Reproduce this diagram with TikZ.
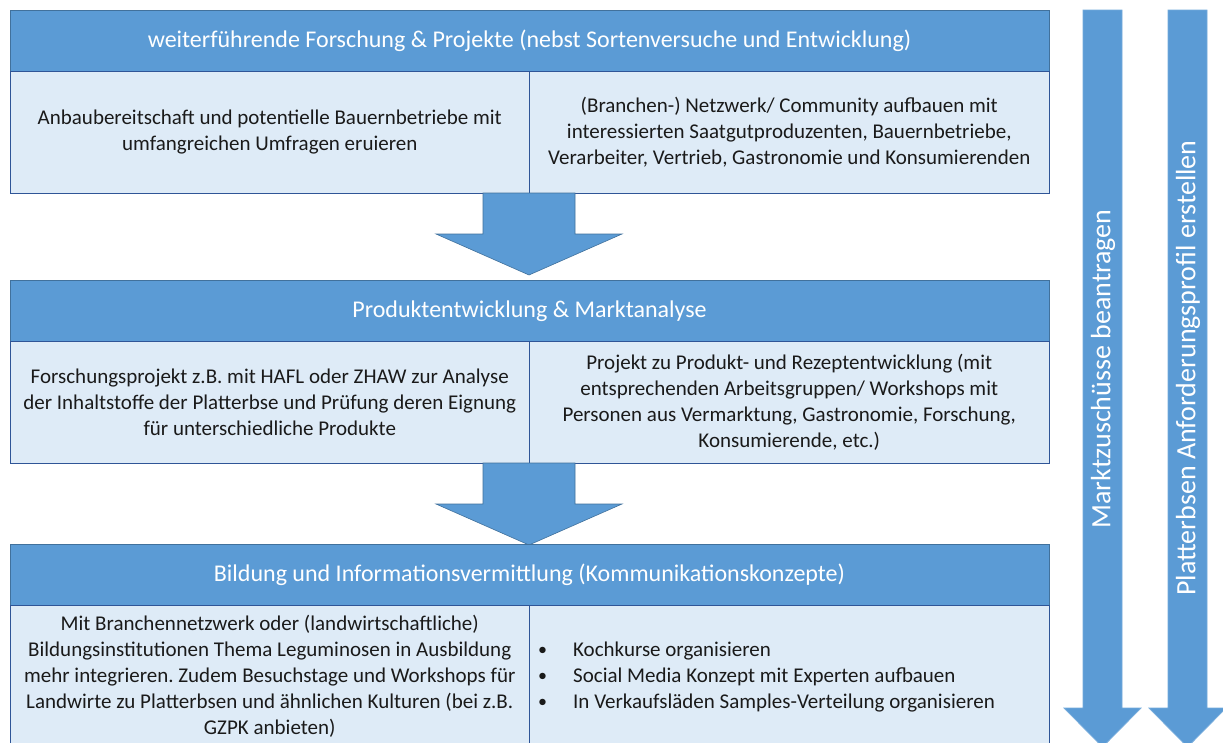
\documentclass[tikz,border=0pt]{standalone}
\usepackage{fontspec}
\setmainfont{Carlito}
\frenchspacing
\newcommand{\mybullet}{\makebox[35pt][l]{\raisebox{1pt}{\fontsize{18}{26}\selectfont •}}}
\begin{document}
\begin{tikzpicture}[x=1pt,y=-1pt]
\definecolor{hdr}{HTML}{5B9BD5}
\definecolor{hdrline}{HTML}{41719C}
\definecolor{cell}{HTML}{DEEBF7}
\definecolor{cellline}{HTML}{2F5597}
\definecolor{txt}{HTML}{1A1A1A}
\tikzset{
  hdrbox/.style={draw=hdrline, line width=0.8pt, fill=hdr, minimum width=1039pt, minimum height=61pt, inner sep=0pt, text=white, font=\fontsize{24}{28}\selectfont},
  cellbox/.style={draw=cellline, line width=1pt, fill=cell, minimum width=519.5pt, inner sep=0pt, align=center, text=txt, font=\fontsize{21}{26}\selectfont},
  celltext/.style={inner sep=0pt, text=txt, font=\fontsize{21}{26}\selectfont},
  blockarrow/.style={fill=hdr, draw=hdrline, line width=0.6pt},
  sidearrow/.style={fill=hdr, draw=hdr!85!white, line width=0.8pt},
  sidetext/.style={rotate=90, text=white, font=\fontsize{28}{32}\selectfont, inner sep=0pt}
}
\useasboundingbox (0,0) rectangle (1223,742);
\fill[white] (0,0) rectangle (1223,742);

% side arrows
\draw[sidearrow] (1083,10) -- (1122,10) -- (1122,708) -- (1141,708) -- (1102.5,747) -- (1064,708) -- (1083,708) -- cycle;
\draw[sidearrow] (1168,10) -- (1207,10) -- (1207,708) -- (1226,708) -- (1187.5,747) -- (1149,708) -- (1168,708) -- cycle;
\node[sidetext] (s1) at (1103,369) {Marktzuschüsse beantragen};
\node[sidetext] (s2) at (1188,368) {Platterbsen Anforderungsprofil erstellen};

% block 1
\node[hdrbox] (h1) at (529.5,40.5) {weiterführende Forschung \& Projekte (nebst Sortenversuche und Entwicklung)};
\node[cellbox, minimum height=122pt] (b1l) at (269.75,132) {Anbaubereitschaft und potentielle Bauernbetriebe mit\\umfangreichen Umfragen eruieren};
\node[cellbox, minimum height=122pt] (b1r) at (789.25,132) {(Branchen-) Netzwerk/ Community aufbauen mit\\interessierten Saatgutproduzenten, Bauernbetriebe,\\Verarbeiter, Vertrieb, Gastronomie und Konsumierenden};

% arrow 1
\draw[blockarrow] (483,193) -- (575,193) -- (575,234) -- (622,234) -- (529,275) -- (436,234) -- (483,234) -- cycle;

% block 2
\node[hdrbox] (h2) at (529.5,311) {Produktentwicklung \& Marktanalyse};
\node[cellbox, minimum height=122pt] (b2l) at (269.75,402) {Forschungsprojekt z.B. mit HAFL oder ZHAW zur Analyse\\der Inhaltstoffe der Platterbse und Prüfung deren Eignung\\für unterschiedliche Produkte};
\node[cellbox, minimum height=122pt] (b2r) at (789.25,402) {Projekt zu Produkt- und Rezeptentwicklung (mit\\entsprechenden Arbeitsgruppen/ Workshops mit\\Personen aus Vermarktung, Gastronomie, Forschung,\\Konsumierende, etc.)};

% arrow 2
\draw[blockarrow] (483,463) -- (575,463) -- (575,504) -- (622,504) -- (529,545) -- (436,504) -- (483,504) -- cycle;

% block 3
\node[hdrbox] (h3) at (529.5,575) {Bildung und Informationsvermittlung (Kommunikationskonzepte)};
\node[cellbox, minimum height=150pt] (b3l) at (269.75,680) {};
\node[cellbox, minimum height=150pt] (b3r) at (789.25,680) {};
\node[celltext, align=center] (t3l) at (269.75,676) {Mit Branchennetzwerk oder (landwirtschaftliche)\\Bildungsinstitutionen Thema Leguminosen in Ausbildung\\mehr integrieren. Zudem Besuchstage und Workshops für\\Landwirte zu Platterbsen und ähnlichen Kulturen (bei z.B.\\GZPK anbieten)};
\node[celltext, align=left, anchor=west] (t3r) at (538,677) {%
\mybullet Kochkurse organisieren\\
\mybullet Social Media Konzept mit Experten aufbauen\\
\mybullet In Verkaufsläden Samples-Verteilung organisieren};
\end{tikzpicture}
\end{document}
